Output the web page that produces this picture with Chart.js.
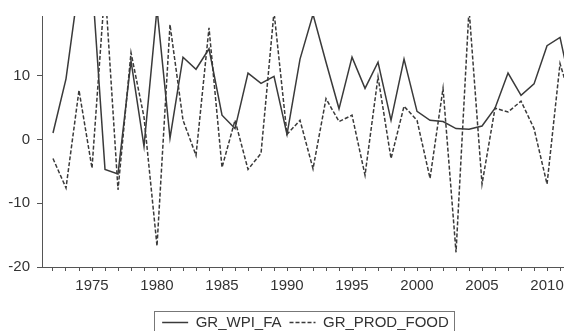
<!DOCTYPE html>
<html>
<head>
<meta charset="utf-8">
<script src="https://cdn.jsdelivr.net/npm/chart.js@4.4.1/dist/chart.umd.min.js"></script>
<style>
  html, body { margin: 0; padding: 0; background: #fff; }
  #wrap { width: 564px; height: 331px; overflow: hidden; position: relative; }
  #growthChart { position: absolute; left: 0; top: 0; }
</style>
</head>
<body>
<div id="wrap"><canvas id="growthChart" width="611" height="340"></canvas></div>
<script>
// Years on the x axis
const years = [1972, 1973, 1974, 1975, 1976, 1977, 1978, 1979, 1980, 1981,
               1982, 1983, 1984, 1985, 1986, 1987, 1988, 1989, 1990, 1991,
               1992, 1993, 1994, 1995, 1996, 1997, 1998, 1999, 2000, 2001,
               2002, 2003, 2004, 2005, 2006, 2007, 2008, 2009, 2010, 2011, 2012];

// GR_WPI_FA (solid line)
const grWpiFa = [1.0, 9.5, 24.5, 25.0, -4.7, -5.4, 12.3, -1.1, 20.5, 0.2,
                 12.9, 11.0, 14.2, 3.8, 1.7, 10.4, 8.8, 9.9, 0.8, 12.6,
                 19.6, 12.1, 4.8, 12.9, 8.0, 12.1, 3.0, 12.6, 4.4, 3.0,
                 2.8, 1.7, 1.6, 2.1, 4.9, 10.4, 6.9, 8.7, 14.7, 16.0, 6.5];

// GR_PROD_FOOD (dashed line)
const grProdFood = [-3.0, -7.6, 7.7, -4.5, 24.0, -7.9, 13.6, 3.5, -16.7, 18.0,
                    3.0, -2.5, 17.5, -4.4, 3.0, -4.7, -2.2, 20.0, 0.8, 3.0,
                    -4.6, 6.4, 2.8, 3.8, -5.6, 9.8, -3.0, 5.2, 3.0, -6.1,
                    8.0, -17.7, 20.5, -7.0, 4.9, 4.3, 6.0, 1.7, -7.0, 11.9, 5.0];

// Axis ticks
const yTicks = [-20, -10, 0, 10];
const xLabelYears = [1975, 1980, 1985, 1990, 1995, 2000, 2005, 2010];
const xFirstTick = 1972;
const xLastTick = 2014;

Chart.defaults.font.family = '"Liberation Sans", Arial, sans-serif';
Chart.defaults.font.size = 15;
Chart.defaults.color = '#333';

// Draw a frame round the legend items
const legendBorder = {
    id: 'legendBorder',
    afterDraw(chart) {
        const boxes = chart.legend.legendHitBoxes;
        if (!boxes || !boxes.length) return;
        const first = boxes[0];
        const last = boxes[boxes.length - 1];
        const ctx = chart.ctx;
        ctx.save();
        ctx.strokeStyle = '#777';
        ctx.lineWidth = 1;
        ctx.strokeRect(Math.round(first.left - 8) + 0.5, Math.round(first.top - 4) + 0.5,
            Math.round(last.left + last.width - first.left + 13), first.height + 20);
        ctx.restore();
    }
};

function toPoints(values) {
    return values.map((v, i) => ({ x: years[i], y: v }));
}

const ctx = document.getElementById('growthChart').getContext('2d');

new Chart(ctx, {
    type: 'line',
    data: {
        datasets: [{
            label: 'GR_WPI_FA',
            data: toPoints(grWpiFa),
            borderColor: '#3a3a3a',
            borderWidth: 1.5,
            pointRadius: 0,
            tension: 0,
            fill: false
        }, {
            label: 'GR_PROD_FOOD',
            data: toPoints(grProdFood),
            borderColor: '#3a3a3a',
            borderWidth: 1.5,
            borderDash: [4, 2],
            pointRadius: 0,
            tension: 0,
            fill: false
        }]
    },
    options: {
        responsive: false,
        animation: false,
        devicePixelRatio: 1,
        layout: { padding: { top: 14, left: 0, right: 0, bottom: 0 } },
        scales: {
            x: {
                type: 'linear',
                min: 1971.154,
                max: 2014.92,
                afterBuildTicks: function (scale) {
                    const ticks = [];
                    for (let yr = xFirstTick; yr <= xLastTick; yr++) ticks.push({ value: yr });
                    scale.ticks = ticks;
                },
                afterFit: function (scale) { scale.height = 40; },
                ticks: {
                    autoSkip: false,
                    maxRotation: 0,
                    padding: 6,
                    color: '#333',
                    callback: function (value) {
                        return xLabelYears.includes(value) ? String(value) : '';
                    }
                },
                grid: { drawOnChartArea: false, drawTicks: true, tickLength: 4, color: '#555' },
                border: { display: true, color: '#555', width: 1 }
            },
            y: {
                min: -20,
                max: 19.35,
                afterBuildTicks: function (scale) {
                    scale.ticks = yTicks.map(v => ({ value: v }));
                },
                afterFit: function (scale) { scale.width = 42; },
                ticks: { padding: 7, color: '#333' },
                grid: { drawOnChartArea: false, drawTicks: true, tickLength: 5, color: '#555' },
                border: { display: true, color: '#555', width: 1 }
            }
        },
        plugins: {
            legend: {
                position: 'bottom',
                labels: {
                    usePointStyle: true,
                    pointStyle: 'line',
                    pointStyleWidth: 26,
                    boxHeight: 15,
                    padding: 8,
                    color: '#333',
                    font: { size: 15 },
                    generateLabels: function (chart) {
                        const items = Chart.defaults.plugins.legend.labels.generateLabels(chart);
                        items.forEach(item => {
                            const ds = chart.data.datasets[item.datasetIndex];
                            item.lineDash = ds.borderDash || [];
                            item.lineWidth = 1.5;
                        });
                        return items;
                    }
                }
            },
            tooltip: { enabled: false }
        }
    },
    plugins: [legendBorder]
});
</script>
</body>
</html>
